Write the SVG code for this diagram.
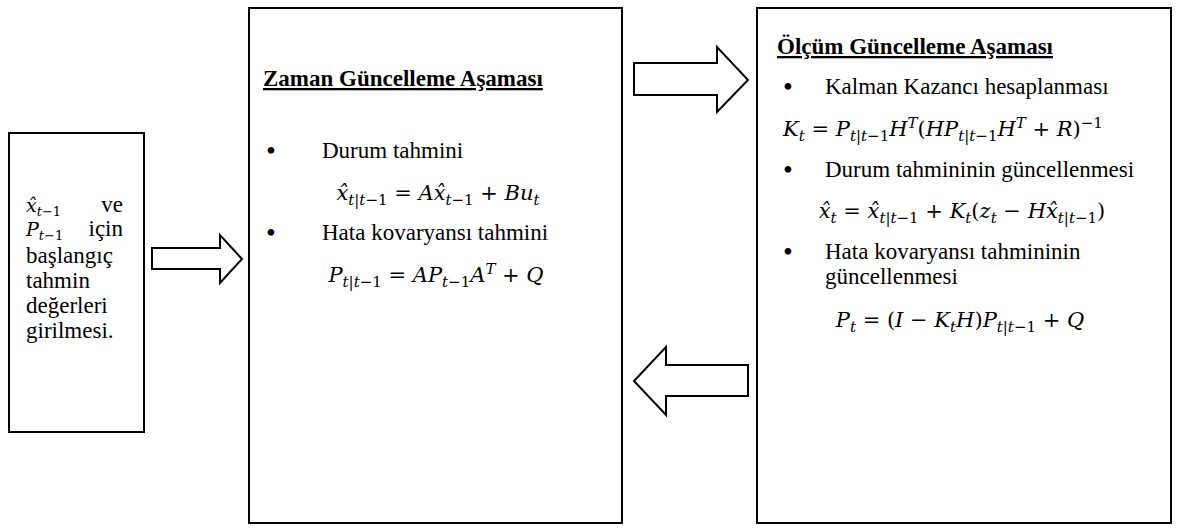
<svg xmlns="http://www.w3.org/2000/svg" width="1181" height="531" viewBox="0 0 1181 531">
<style>
.box{fill:#fff;stroke:#000;stroke-width:2}
.arr{fill:#fff;stroke:#000;stroke-width:2;stroke-linejoin:miter}
.t{font-family:'Liberation Serif','Times New Roman',serif;font-size:23px;fill:#000}
.ttl{font-weight:bold;font-size:23px;text-decoration:underline}
.b{font-size:28px}
.m{font-family:'DejaVu Serif',serif;font-size:21px}
.ms{font-family:'DejaVu Serif',serif;font-size:19px}
.i{font-style:italic}
.s{font-size:15px}
.s2{font-size:13px}
</style>
<rect width="1181" height="531" fill="#fff"/>
<g id="connectors">
<polygon class="arr" points="152,248 220,248 220,235 242,259 220,283 220,269 152,269"/>
<polygon class="arr" points="634,63 717,63 717,47 748,80 717,112 717,95 634,95"/>
<polygon class="arr" points="748,365 666,365 666,347 634,381 666,415 666,396 748,396"/>
</g>
<g id="init" class="t">
<rect class="box" x="9" y="133" width="135" height="299"/>
<text class="ms" x="26" y="212"><tspan class="i">x̂</tspan><tspan class="s2 i" dy="4">t</tspan><tspan class="s2">−1</tspan></text>
<text x="123" y="212" text-anchor="end">ve</text>
<text class="ms" x="26" y="236"><tspan class="i">P</tspan><tspan class="s2 i" dy="4">t</tspan><tspan class="s2">−1</tspan></text>
<text x="123" y="236" text-anchor="end">için</text>
<text x="26" y="263">başlangıç</text>
<text x="26" y="288">tahmin</text>
<text x="26" y="313">değerleri</text>
<text x="26" y="338">girilmesi.</text>
</g>
<g id="time-update" class="t">
<rect class="box" x="249" y="8" width="373" height="515"/>
<text class="ttl" x="263" y="86">Zaman Güncelleme Aşaması</text>
<text class="b" x="266" y="160">•</text>
<text x="322" y="158">Durum tahmini</text>
<text class="m" x="438" y="200" text-anchor="middle"><tspan class="i">x̂</tspan><tspan class="s" dy="5"><tspan class="i">t</tspan>|<tspan class="i">t</tspan>−1</tspan><tspan dy="-5"> = <tspan class="i">A</tspan><tspan class="i">x̂</tspan></tspan><tspan class="s" dy="5"><tspan class="i">t</tspan>−1</tspan><tspan dy="-5"> + <tspan class="i">Bu</tspan></tspan><tspan class="s i" dy="5">t</tspan></text>
<text class="b" x="266" y="242">•</text>
<text x="322" y="240">Hata kovaryansı tahmini</text>
<text class="m" x="436" y="282" text-anchor="middle"><tspan class="i">P</tspan><tspan class="s" dy="5"><tspan class="i">t</tspan>|<tspan class="i">t</tspan>−1</tspan><tspan dy="-5"> = <tspan class="i">AP</tspan></tspan><tspan class="s" dy="5"><tspan class="i">t</tspan>−1</tspan><tspan class="i" dy="-5">A</tspan><tspan class="s i" dy="-8">T</tspan><tspan dy="8"> + <tspan class="i">Q</tspan></tspan></text>
</g>
<g id="measurement-update" class="t">
<rect class="box" x="757" y="8" width="414" height="515"/>
<text class="ttl" x="777" y="54">Ölçüm Güncelleme Aşaması</text>
<text class="b" x="783" y="96">•</text>
<text x="825" y="94">Kalman Kazancı hesaplanması</text>
<text class="m" x="943" y="136" text-anchor="middle"><tspan class="i">K</tspan><tspan class="s i" dy="5">t</tspan><tspan dy="-5"> = <tspan class="i">P</tspan></tspan><tspan class="s" dy="5"><tspan class="i">t</tspan>|<tspan class="i">t</tspan>−1</tspan><tspan class="i" dy="-5">H</tspan><tspan class="s i" dy="-8">T</tspan><tspan dy="8">(<tspan class="i">HP</tspan></tspan><tspan class="s" dy="5"><tspan class="i">t</tspan>|<tspan class="i">t</tspan>−1</tspan><tspan class="i" dy="-5">H</tspan><tspan class="s i" dy="-8">T</tspan><tspan dy="8"> + <tspan class="i">R</tspan>)</tspan><tspan class="s" dy="-8">−1</tspan></text>
<text class="b" x="783" y="179">•</text>
<text x="825" y="177">Durum tahmininin güncellenmesi</text>
<text class="m" x="962" y="218" text-anchor="middle"><tspan class="i">x̂</tspan><tspan class="s i" dy="5">t</tspan><tspan dy="-5"> = <tspan class="i">x̂</tspan></tspan><tspan class="s" dy="5"><tspan class="i">t</tspan>|<tspan class="i">t</tspan>−1</tspan><tspan dy="-5"> + <tspan class="i">K</tspan></tspan><tspan class="s i" dy="5">t</tspan><tspan dy="-5">(<tspan class="i">z</tspan></tspan><tspan class="s i" dy="5">t</tspan><tspan dy="-5"> − <tspan class="i">H</tspan><tspan class="i">x̂</tspan></tspan><tspan class="s" dy="5"><tspan class="i">t</tspan>|<tspan class="i">t</tspan>−1</tspan><tspan dy="-5">)</tspan></text>
<text class="b" x="783" y="261">•</text>
<text x="825" y="259">Hata kovaryansı tahmininin</text>
<text x="825" y="284">güncellenmesi</text>
<text class="m" x="960" y="327" text-anchor="middle"><tspan class="i">P</tspan><tspan class="s i" dy="5">t</tspan><tspan dy="-5"> = (<tspan class="i">I</tspan> − <tspan class="i">K</tspan></tspan><tspan class="s i" dy="5">t</tspan><tspan class="i" dy="-5">H</tspan><tspan>)<tspan class="i">P</tspan></tspan><tspan class="s" dy="5"><tspan class="i">t</tspan>|<tspan class="i">t</tspan>−1</tspan><tspan dy="-5"> + <tspan class="i">Q</tspan></tspan></text>
</g>
</svg>
